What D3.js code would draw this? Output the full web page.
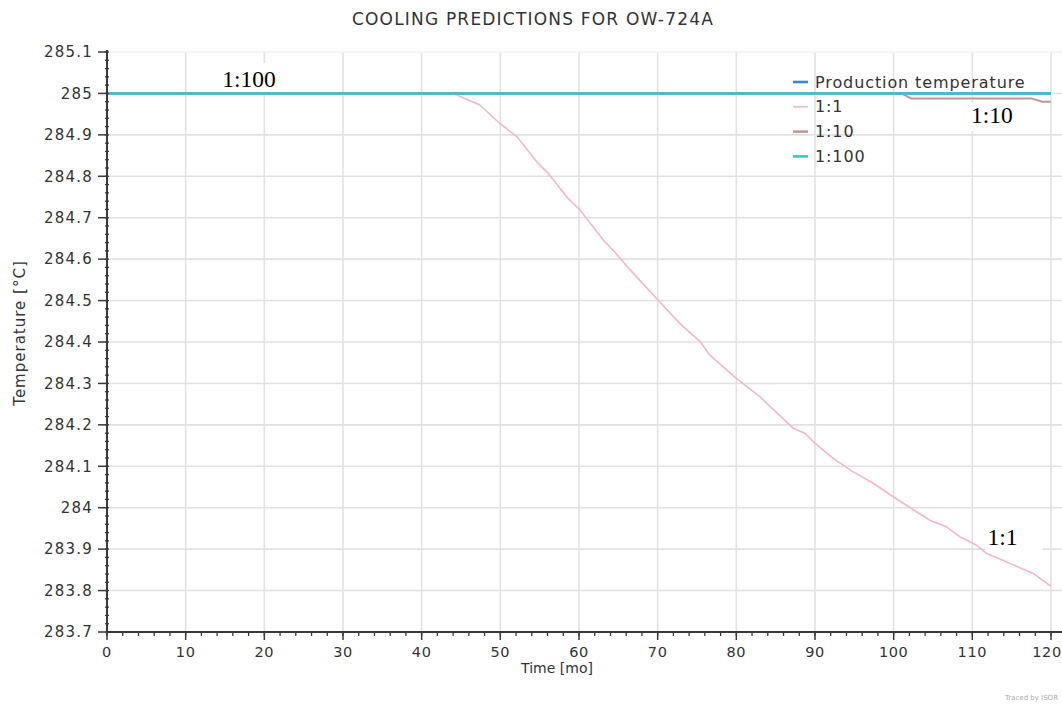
<!DOCTYPE html>
<html><head><meta charset="utf-8">
<script src="https://cdn.jsdelivr.net/npm/d3@7"></script>
<style>body{margin:0;background:#fff}svg{display:block}</style>
</head><body>
<script>
// ---- data ----
const title = "COOLING PREDICTIONS FOR OW-724A";
const xTicks = [0,10,20,30,40,50,60,70,80,90,100,110,120];
const yTicks = [283.7,283.8,283.9,284,284.1,284.2,284.3,284.4,284.5,284.6,284.7,284.8,284.9,285,285.1];
const seriesNames = ["Production temperature","1:1","1:10","1:100"];
const seriesColors = ["#3a86c6","#f6b6cc","#c39890","#3ec2d2"];

const prodMonths = [0,120];
const prodValues = [285,285];

const r1Months = [0,44,47.4,49.9,52.1,54.8,56.1,58.4,60.1,63.1,64.5,66.5,70.1,72.8,75.4,76.6,80.0,83.0,87.2,88.7,90.0,92.3,94.8,97.4,99.9,102.5,104.6,106.7,108.4,110.5,111.8,115.2,117.7,120];
const r1Values = [285,285,284.972,284.928,284.896,284.831,284.807,284.751,284.719,284.646,284.618,284.574,284.500,284.445,284.401,284.369,284.312,284.268,284.192,284.180,284.156,284.119,284.087,284.059,284.027,283.995,283.970,283.954,283.930,283.910,283.890,283.862,283.842,283.810];

const r10Months = [0,101.0,102.2,117.5,118.9,120];
const r10Values = [285,285,284.988,284.988,284.980,284.980];

const r100Months = [0,120];
const r100Values = [285,285];

const annotationTexts = ["1:100","1:10","1:1"];
const annotationMonths = [18.05,112.5,113.85];
const annotationTemps = [285.016,284.929,283.910];

// ---- chart ----
const W=1062,H=706;
const svg=d3.select("body").append("svg").attr("width",W).attr("height",H);
const x=d3.scaleLinear().domain([0,121.4]).range([107,1062]);
const y=d3.scaleLinear().domain([283.7,285.1]).range([632,52]);
const font="'DejaVu Sans', Verdana, sans-serif";

// grid
const g=svg.append("g");
g.selectAll(".vg").data(xTicks.filter(d=>d>0)).join("line")
  .attr("x1",d=>x(d)).attr("x2",d=>x(d)).attr("y1",52).attr("y2",632)
  .attr("stroke","#e2e2e2").attr("stroke-width",1.6);
g.selectAll(".hg").data(yTicks.filter(d=>d>283.75)).join("line")
  .attr("x1",107).attr("x2",1062).attr("y1",d=>y(d)).attr("y2",d=>y(d))
  .attr("stroke",(d)=>d>285.05?"#f2f2f2":"#e2e2e2").attr("stroke-width",1.6);

// annotation boxes (behind lines, above grid)
const boxes=[
  {x0:218,x1:282,y0:63,y1:92},
  {x0:962,x1:1026,y0:102,y1:131},
  {x0:985,x1:1043,y0:524,y1:552}
];
svg.selectAll(".box").data(boxes).join("rect")
  .attr("x",d=>d.x0).attr("y",d=>d.y0).attr("width",d=>d.x1-d.x0).attr("height",d=>d.y1-d.y0)
  .attr("fill","#fff");

// lines
const line=d3.line().x(d=>x(d[0])).y(d=>y(d[1]));
const series=[
  {m:prodMonths,v:prodValues,c:seriesColors[0],w:2.5},
  {m:r1Months,v:r1Values,c:seriesColors[1],w:1.6},
  {m:r10Months,v:r10Values,c:seriesColors[2],w:2},
  {m:r100Months,v:r100Values,c:seriesColors[3],w:2.6}
];
series.forEach(s=>{
  svg.append("path").datum(s.m.map((d,i)=>[d,s.v[i]]))
    .attr("d",line).attr("fill","none").attr("stroke",s.c).attr("stroke-width",s.w)
    .attr("stroke-linejoin","round");
});

// axes
const axisColor="#3a3a3a";
// y axis
const ya=svg.append("g");
ya.append("line").attr("x1",107).attr("x2",107).attr("y1",50).attr("y2",633).attr("stroke",axisColor).attr("stroke-width",2);
const yMinor=d3.range(0,71).map(i=>283.7+i*0.02);
ya.selectAll(".ym").data(yMinor).join("line")
  .attr("x1",105).attr("x2",109).attr("y1",d=>y(d)).attr("y2",d=>y(d))
  .attr("stroke",axisColor).attr("stroke-width",1.3);
ya.selectAll(".yM").data(yTicks).join("line")
  .attr("x1",98).attr("x2",107).attr("y1",d=>y(d)).attr("y2",d=>y(d))
  .attr("stroke",axisColor).attr("stroke-width",1.5);
ya.selectAll(".yl").data(yTicks).join("text")
  .attr("x",93).attr("y",d=>y(d)).attr("dy","0.35em").attr("text-anchor","end")
  .attr("font-family",font).attr("font-size",15).attr("letter-spacing",1.2).attr("fill","#333")
  .text(d=>String(+d.toFixed(1)));

// x axis
const xa=svg.append("g");
xa.append("line").attr("x1",106).attr("x2",1062).attr("y1",632).attr("y2",632).attr("stroke",axisColor).attr("stroke-width",2.2);
const xMinor=d3.range(0,61).map(i=>i*2);
xa.selectAll(".xm").data(xMinor).join("line")
  .attr("x1",d=>x(d)).attr("x2",d=>x(d)).attr("y1",632).attr("y2",636)
  .attr("stroke",axisColor).attr("stroke-width",1.3);
xa.selectAll(".xM").data(xTicks).join("line")
  .attr("x1",d=>x(d)).attr("x2",d=>x(d)).attr("y1",632).attr("y2",640)
  .attr("stroke",axisColor).attr("stroke-width",1.5);
xa.selectAll(".xl").data(xTicks).join("text")
  .attr("x",d=>Math.min(x(d),1047)).attr("y",652).attr("dy","0.35em").attr("text-anchor","middle")
  .attr("font-family",font).attr("font-size",14.5).attr("letter-spacing",0.6).attr("fill","#333")
  .text(d=>d);

// titles
svg.append("text").attr("x",533).attr("y",19).attr("dy","0.35em").attr("text-anchor","middle")
  .attr("font-family",font).attr("font-size",17).attr("letter-spacing",1.2).attr("fill","#333").text(title);
svg.append("text").attr("x",557).attr("y",668).attr("dy","0.35em").attr("text-anchor","middle")
  .attr("font-family",font).attr("font-size",14).attr("fill","#333").text("Time [mo]");
svg.append("text").attr("transform","translate(20,333) rotate(-90)").attr("dy","0.35em").attr("text-anchor","middle")
  .attr("font-family",font).attr("font-size",15).attr("letter-spacing",1).attr("fill","#333").text("Temperature [°C]");
svg.append("text").attr("x",1058).attr("y",700).attr("text-anchor","end")
  .attr("font-family",font).attr("font-size",7).attr("fill","#aaa").text("Traced by ISOR");

// legend
const lg=svg.append("g");
seriesNames.forEach((n,i)=>{
  const yy=82+i*24.8;
  lg.append("line").attr("x1",793).attr("x2",808).attr("y1",yy).attr("y2",yy)
    .attr("stroke",seriesColors[i]).attr("stroke-width",i===1?1.6:2.6);
  lg.append("text").attr("x",815).attr("y",yy).attr("dy","0.35em")
    .attr("font-family",font).attr("font-size",16).attr("letter-spacing",0.9).attr("fill","#333").text(n);
});

// annotations
svg.selectAll(".ann").data(annotationTexts).join("text")
  .attr("x",(d,i)=>x(annotationMonths[i])).attr("y",(d,i)=>y(annotationTemps[i])).attr("text-anchor","middle")
  .attr("font-family","'Liberation Serif','Times New Roman',serif").attr("font-size",23.5).attr("fill","#000")
  .text(d=>d);
</script>
</body></html>
